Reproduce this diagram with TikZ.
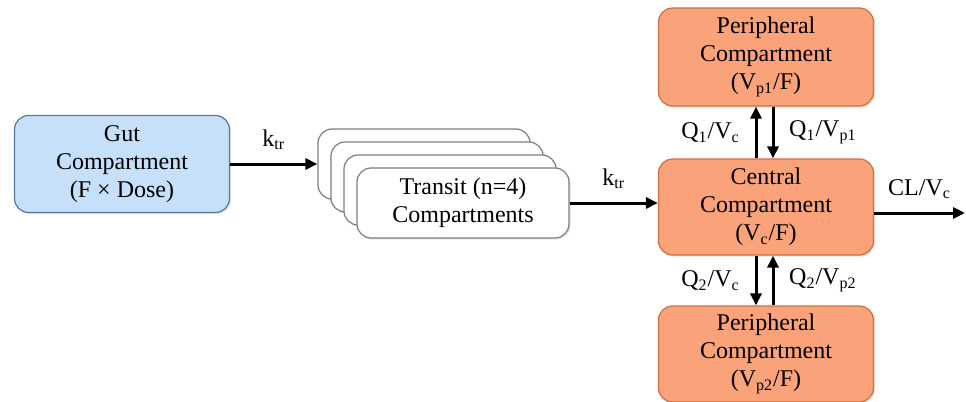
\documentclass[tikz,border=0pt]{standalone}
\usepackage{fontspec}
\setmainfont{Liberation Serif}
\usetikzlibrary{positioning}
\usetikzlibrary{calc}
\usetikzlibrary{arrows.meta}
\usetikzlibrary{shadows}

\definecolor{gutfill}{RGB}{197,224,248}
\definecolor{gutline}{RGB}{84,120,158}
\definecolor{compfill}{RGB}{250,162,122}
\definecolor{compline}{RGB}{205,112,62}
\definecolor{boxline}{RGB}{125,125,125}

\tikzset{
  caixa/.style={rounded corners=7pt, line width=0.6pt, align=center,
    minimum width=107.5pt, inner sep=2pt,
    drop shadow={opacity=0.2, shadow xshift=0.8pt, shadow yshift=-0.8pt}},
  gut/.style={caixa, draw=gutline, fill=gutfill, minimum height=48.5pt},
  comp/.style={caixa, draw=compline, fill=compfill, minimum height=48pt},
  tbox/.style={caixa, draw=boxline, fill=white, minimum width=106pt, minimum height=35pt},
  fluxo/.style={-{Triangle[length=6pt,width=5.5pt]}, line width=1.5pt},
}

\begin{document}
\begin{tikzpicture}[x=0.5pt, y=-0.5pt, font=\fontsize{12}{14}\selectfont]
    \useasboundingbox (0,0) rectangle (966,402);

    % Compartimento do intestino
    \node[gut] (gut) at (122,164) {Gut\\Compartment\\(F × Dose)};

    % Pilha de compartimentos de trânsito
    \foreach \k in {3,2,1}
    {
    \node[tbox] (t\k) at (463-13*\k, 203-13*\k) {};
    }
    \node[tbox] (transit) at (463,203) {Transit (n=4)\\Compartments};

    % Central e periféricos
    \node[comp] (central) at (766,207) {Central\\Compartment\\(V\textsubscript{c}/F)};
    \node[comp, minimum height=49pt] (per1) at (766,57) {Peripheral\\Compartment\\(V\textsubscript{p1}/F)};
    \node[comp] (per2) at (766,354) {Peripheral\\Compartment\\(V\textsubscript{p2}/F)};
    \coordinate (saida) at (965,213);

    % Setas de absorção
    \draw[fluxo] (gut.east) -- (gut.east -| t3.west) node[midway, above=3pt] {k\textsubscript{tr}};
    \draw[fluxo] (transit.east) -- (transit.east -| central.west) node[midway, above=3pt] {k\textsubscript{tr}};

    % Trocas com os periféricos
    \draw[fluxo] ([xshift=-5pt]central.north) -- ([xshift=-5pt]per1.south) node[midway, left=4pt] {Q\textsubscript{1}/V\textsubscript{c}};
    \draw[fluxo] ([xshift=3.5pt]per1.south) -- ([xshift=3.5pt]central.north) node[midway, right=4pt] {Q\textsubscript{1}/V\textsubscript{p1}};
    \draw[fluxo] ([xshift=-5pt]central.south) -- ([xshift=-5pt]per2.north) node[midway, left=4pt] {Q\textsubscript{2}/V\textsubscript{c}};
    \draw[fluxo] ([xshift=3.5pt]per2.north) -- ([xshift=3.5pt]central.south) node[midway, right=4pt] {Q\textsubscript{2}/V\textsubscript{p2}};

    % Eliminação
    \draw[fluxo] (central.east |- saida) -- (saida) node[midway, above=3pt] {CL/V\textsubscript{c}};
\end{tikzpicture}
\end{document}
